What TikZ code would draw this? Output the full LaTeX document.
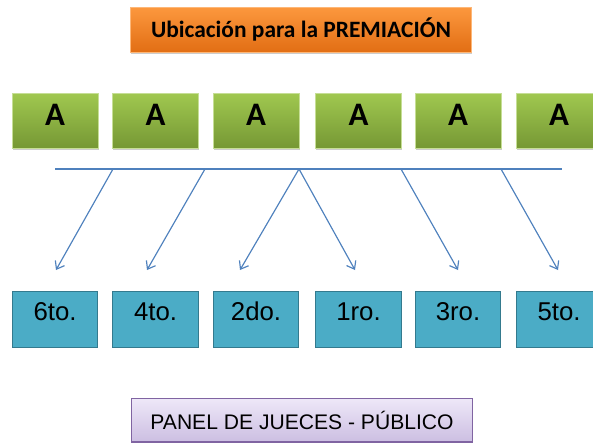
\documentclass[tikz,border=0pt]{standalone}
\usepackage{fontspec}
\setmainfont{Liberation Sans}
\newfontfamily\calibri{Carlito}
\usepackage{xcolor}
\usepackage{tikz}
\usetikzlibrary{arrows.meta, shadows}
\definecolor{titletop}{RGB}{252, 152, 62}
\definecolor{titlebottom}{RGB}{226, 110, 20}
\definecolor{seattop}{RGB}{160, 200, 80}
\definecolor{seatbottom}{RGB}{118, 152, 52}
\definecolor{placefill}{RGB}{75, 172, 198}
\definecolor{placeline}{RGB}{52, 122, 142}
\definecolor{paneltop}{RGB}{238, 232, 248}
\definecolor{panelbottom}{RGB}{204, 190, 226}
\definecolor{panelline}{RGB}{128, 100, 162}
\definecolor{linecolor}{RGB}{79, 129, 189}

\begin{document}
\begin{tikzpicture}[
    x=0.03cm, y=-0.03cm,
    title/.style={draw=titletop!70!white, top color=titletop, bottom color=titlebottom, inner sep=0pt, minimum width=290.8pt, minimum height=38.3pt, font=\calibri\bfseries\fontsize{20}{22}\selectfont, drop shadow={shadow xshift=0.6pt, shadow yshift=-1.5pt, fill=black!40}},
    seat/.style={draw=seattop!60!white, top color=seattop, bottom color=seatbottom, inner sep=0pt, minimum width=73.1pt, minimum height=46.8pt, text depth=9pt, font=\calibri\bfseries\fontsize{28}{30}\selectfont, drop shadow={shadow xshift=0.6pt, shadow yshift=-1.5pt, fill=black!40}},
    place/.style={draw=placeline, fill=placefill, line width=0.8pt, inner xsep=0pt, inner ysep=0pt, minimum width=73.1pt, text height=24.7pt, text depth=23.8pt, font=\fontsize{22}{24}\selectfont},
    panel/.style={draw=panelline, top color=paneltop, bottom color=panelbottom, line width=1pt, inner sep=0pt, minimum width=290.8pt, minimum height=37.4pt, font=\fontsize{18}{20}\selectfont},
    arrow/.style={-{Straight Barb[length=6pt, width=9pt]}, draw=linecolor, line width=1pt}
]
    \clip (0,0) rectangle (593,444);

    % Title
    \node[title] (title) at (301,29.5) {Ubicación para la PREMIACIÓN};

    % Seats
    \node[seat] (a1) at (55,120.5) {A};
    \node[seat] (a2) at (155.5,120.5) {A};
    \node[seat] (a3) at (256,120.5) {A};
    \node[seat] (a4) at (358.5,120.5) {A};
    \node[seat] (a5) at (458,120.5) {A};
    \node[seat] (a6) at (559,120.5) {A};

    % Places
    \node[place] (p6) at (55,319.5) {6to.};
    \node[place] (p4) at (155.5,319.5) {4to.};
    \node[place] (p2) at (256,319.5) {2do.};
    \node[place] (p1) at (358.5,319.5) {1ro.};
    \node[place] (p3) at (458,319.5) {3ro.};
    \node[place] (p5) at (559,319.5) {5to.};

    % Panel
    \node[panel] (panel) at (302,420) {PANEL DE JUECES - PÚBLICO};

    % Bar and branch points
    \coordinate (barleft) at (55,169);
    \coordinate (barright) at (562,169);
    \coordinate (s1) at (113,169);
    \coordinate (s2) at (205,169);
    \coordinate (s3) at (299,169);
    \coordinate (s4) at (401,169);
    \coordinate (s5) at (501,169);
    \coordinate (t6) at (56,270);
    \coordinate (t4) at (147,270);
    \coordinate (t2) at (240,270);
    \coordinate (t1) at (355,270);
    \coordinate (t3) at (458,270);
    \coordinate (t5) at (558,270);
    \draw[draw=linecolor, line width=1pt] (barleft) -- (barright);

    % Arrows
    \draw[arrow] (s1) -- (t6);
    \draw[arrow] (s2) -- (t4);
    \draw[arrow] (s3) -- (t2);
    \draw[arrow] (s3) -- (t1);
    \draw[arrow] (s4) -- (t3);
    \draw[arrow] (s5) -- (t5);
\end{tikzpicture}
\end{document}
